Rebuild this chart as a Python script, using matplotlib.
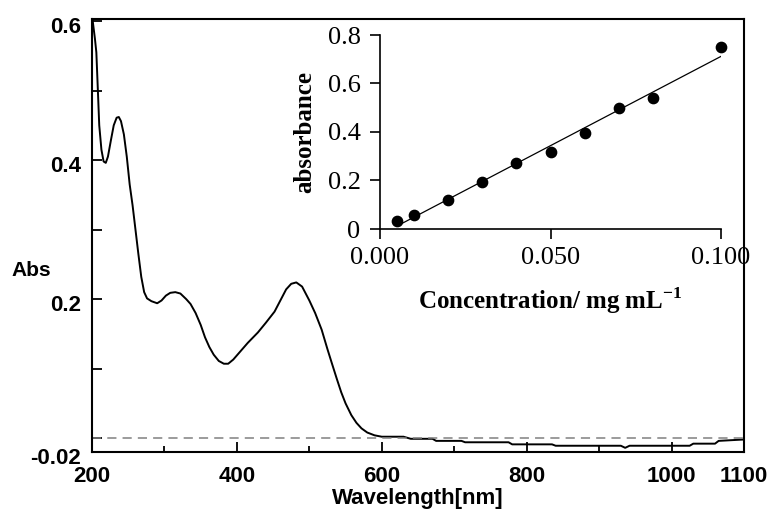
import numpy as np
import matplotlib
matplotlib.use("Agg")
import matplotlib.pyplot as plt
from matplotlib.transforms import ScaledTranslation

# ---- spectrum data ----
wavelength = [200, 201, 204, 206, 208, 210, 213, 216, 219, 222, 226, 230, 234, 237, 240,
              244, 248, 252, 256, 260, 264, 268, 272, 276, 282, 290, 296, 302, 308, 315,
              322, 330, 336, 343, 350, 356, 362, 368, 375, 382, 388, 395, 405, 415, 429,
              440, 452, 460, 468, 475, 482, 490, 500, 508, 517, 525, 531, 538, 544, 550,
              558, 565, 572, 580, 590, 600, 630, 640, 670, 675, 710, 715, 775, 780, 835,
              840, 930, 936, 942, 1025, 1030, 1060, 1065, 1100, 1103]
absorb = [0.65, 0.60, 0.575, 0.555, 0.503, 0.450, 0.415, 0.398, 0.396, 0.405, 0.428, 0.450,
          0.461, 0.462, 0.456, 0.437, 0.405, 0.365, 0.335, 0.300, 0.265, 0.232, 0.210, 0.201,
          0.197, 0.194, 0.198, 0.205, 0.209, 0.210, 0.208, 0.200, 0.193, 0.180, 0.163, 0.145,
          0.131, 0.120, 0.111, 0.107, 0.107, 0.113, 0.125, 0.137, 0.152, 0.166, 0.182, 0.198,
          0.214, 0.222, 0.224, 0.218, 0.198, 0.180, 0.156, 0.128, 0.108, 0.085, 0.066, 0.050,
          0.033, 0.022, 0.014, 0.008, 0.004, 0.002, 0.002, -0.001, -0.001, -0.004, -0.004,
          -0.006, -0.006, -0.009, -0.009, -0.011, -0.011, -0.014, -0.011, -0.011, -0.008,
          -0.008, -0.004, -0.002, 0.000]

x_major = [200, 400, 600, 800, 1000, 1100]
x_minor = [300, 500, 700, 900]
y_major = [-0.02, 0.2, 0.4, 0.6]
y_major_labels = ["-0.02", "0.2", "0.4", "0.6"]
y_minor = [0.0, 0.1, 0.3, 0.5]

# ---- calibration data ----
conc = [0.005, 0.01, 0.02, 0.03, 0.04, 0.05, 0.06, 0.07, 0.08, 0.10]
conc_abs = [0.032, 0.059, 0.121, 0.192, 0.274, 0.317, 0.394, 0.498, 0.540, 0.752]
inset_xticks = [0.0, 0.05, 0.1]
inset_xlabels = ["0.000", "0.050", "0.100"]
inset_yticks = [0, 0.2, 0.4, 0.6, 0.8]
inset_ylabels = ["0", "0.2", "0.4", "0.6", "0.8"]

plt.rcParams['mathtext.fontset'] = 'custom'
plt.rcParams['mathtext.rm'] = 'Liberation Serif'
plt.rcParams['mathtext.bf'] = 'Liberation Serif:bold'

fig = plt.figure(figsize=(7.71, 5.11), dpi=100)
ax = fig.add_axes([92/771, 1-452/511, (744-92)/771, (452-19)/511])

ax.plot(wavelength, absorb, color='black', lw=1.4)
ax.axhline(0, color='#808080', lw=1.1, ls=(0, (6, 4)))
ax.set_xlim(200, 1100)
ax.set_ylim(-0.02, 0.603)

for s in ax.spines.values():
    s.set_linewidth(1.5)

ax.set_xticks(x_major)
ax.set_xticklabels([str(v) for v in x_major])
ax.set_xticks(x_minor, minor=True)
ax.set_yticks(y_major)
ax.set_yticklabels(y_major_labels)
ax.set_yticks(y_minor, minor=True)
ax.tick_params(axis='both', which='both', direction='in', width=1.3, colors='black')
ax.tick_params(axis='x', which='major', length=7, pad=10)
ax.tick_params(axis='x', which='minor', length=4)
ax.tick_params(axis='y', which='both', length=7, pad=8)
for lab in ax.get_xticklabels() + ax.get_yticklabels():
    lab.set_fontfamily('Liberation Sans')
    lab.set_fontweight('bold')
    lab.set_fontsize(16)
off = ScaledTranslation(0, -4/100, fig.dpi_scale_trans)
for lab in ax.get_yticklabels():
    lab.set_transform(lab.get_transform() + off)

ax.set_xlabel("Wavelength[nm]", fontfamily='Liberation Sans', fontweight='bold',
              fontsize=16, labelpad=1)
fig.text(11/771, 1-270/511, "Abs", fontfamily='Liberation Sans', fontweight='bold',
         fontsize=15, ha='left', va='center')

# ---- inset ----
ins = fig.add_axes([380/771, 1-229/511, (721-380)/771, (229-35)/511])
ins.patch.set_alpha(0)
ins.scatter(conc, conc_abs, s=55, color='black', zorder=3, clip_on=False)
m, b = np.polyfit(conc, conc_abs, 1)
xf = np.array([conc[0], conc[-1]])
ins.plot(xf, m*xf + b, color='black', lw=0.9)
ins.set_xlim(0, 0.1)
ins.set_ylim(0, 0.8)
ins.spines['top'].set_visible(False)
ins.spines['right'].set_visible(False)
for s in ('left', 'bottom'):
    ins.spines[s].set_linewidth(1.2)
ins.set_xticks(inset_xticks)
ins.set_xticklabels(inset_xlabels)
ins.set_yticks(inset_yticks)
ins.set_yticklabels(inset_ylabels)
ins.tick_params(axis='both', direction='out', length=7, width=1.2, colors='black')
ins.tick_params(axis='x', pad=6)
ins.tick_params(axis='y', pad=7)
for lab in ins.get_xticklabels() + ins.get_yticklabels():
    lab.set_fontfamily('Liberation Serif')
    lab.set_fontsize(19)
ins.set_xlabel(r"Concentration/ mg mL$^{\mathbf{-1}}$", fontfamily='Liberation Serif',
               fontweight='bold', fontsize=18, labelpad=12)
ins.set_ylabel("absorbance", fontfamily='Liberation Serif', fontweight='bold',
               fontsize=18, labelpad=8)

fig.savefig("out.png", dpi=100)
